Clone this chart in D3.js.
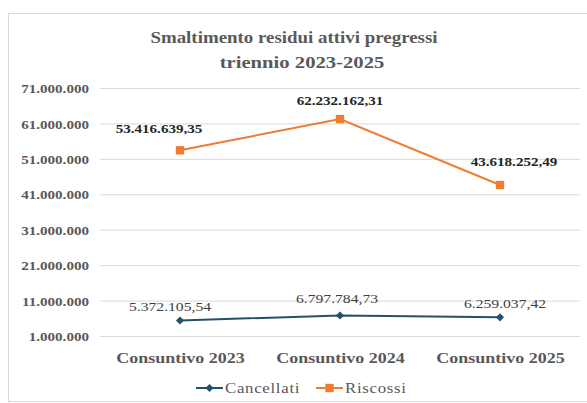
<!DOCTYPE html>
<html>
<head>
<meta charset="utf-8">
<script src="https://cdn.jsdelivr.net/npm/d3@7/dist/d3.min.js"></script>
<style>
  html, body { margin: 0; padding: 0; background: #fff; }
  svg { display: block; }
  text { font-family: "Liberation Serif", "Times New Roman", serif; }
</style>
</head>
<body>
<svg id="chart" width="587" height="403"></svg>
<script>
// Chart data
const categories = ["Consuntivo 2023", "Consuntivo 2024", "Consuntivo 2025"];
const cancellati = [5372105.54, 6797784.73, 6259037.42];
const riscossi = [53416639.35, 62232162.31, 43618252.49];
const yTicks = [1000000, 11000000, 21000000, 31000000, 41000000, 51000000, 61000000, 71000000];
const seriesNames = ["Cancellati", "Riscossi"];
const titleLines = ["Smaltimento residui attivi pregressi", "triennio 2023-2025"];

const it = d3.formatLocale({ decimal: ",", thousands: ".", grouping: [3], currency: ["€", ""] });
const fmtTick = it.format(",d");
const fmtVal = it.format(",.2f");

const svg = d3.select("#chart");
const W = 587, H = 403;
const plot = { left: 100, right: 580, top: 88, bottom: 336 };
const widen = 1.16; // glyphs are drawn slightly wider than the font's natural width

function stretch(sel, k = widen) {
  sel.each(function () {
    const len = this.getComputedTextLength();
    d3.select(this).attr("textLength", len * k).attr("lengthAdjust", "spacingAndGlyphs");
  });
}

// Chart area frame
svg.append("rect").attr("x", 8.5).attr("y", 13.5).attr("width", W - 8).attr("height", 388)
  .attr("fill", "#fff").attr("stroke", "#d9d9d9").attr("stroke-width", 1);

const x = d3.scalePoint().domain(categories).range([plot.left, plot.right]).padding(0.5);
const y = d3.scaleLinear().domain([1000000, 71000000]).range([plot.bottom, plot.top]);

// Title
svg.append("g").selectAll("text").data(titleLines).join("text")
  .attr("x", (d, i) => i === 0 ? 294 : 302).attr("y", (d, i) => 43 + i * 25)
  .attr("text-anchor", "middle").attr("font-size", 17.5).attr("font-weight", "bold")
  .attr("fill", "#595959").text(d => d)
  .each(function (d, i) { d3.select(this).call(stretch, i === 0 ? 1.08 : 1.18); });

// Gridlines and value axis
const yAxis = d3.axisLeft(y).tickValues(yTicks).tickFormat(fmtTick)
  .tickSize(-(plot.right - plot.left)).tickPadding(11);
const gy = svg.append("g").attr("transform", `translate(${plot.left},0)`).call(yAxis);
gy.select(".domain").remove();
gy.selectAll(".tick line").attr("stroke", "#d9d9d9").attr("stroke-width", 1);
gy.selectAll(".tick text").attr("font-size", 13).attr("font-weight", "bold")
  .attr("fill", "#595959").attr("dy", "0.36em").call(stretch);

// Category axis
const xAxis = d3.axisBottom(x).tickSize(0).tickPadding(16);
const gx = svg.append("g").attr("transform", `translate(0,${plot.bottom})`).call(xAxis);
gx.select(".domain").remove();
gx.selectAll(".tick text").attr("font-size", 15.5).attr("font-weight", "bold")
  .attr("fill", "#595959").call(stretch);

const colors = { Cancellati: "#24506c", Riscossi: "#ed7d31" };
const line = d3.line().x((d, i) => x(categories[i])).y(d => y(d));

// Cancellati series
svg.append("path").datum(cancellati).attr("d", line)
  .attr("fill", "none").attr("stroke", colors.Cancellati).attr("stroke-width", 2);
svg.append("g").selectAll("path").data(cancellati).join("path")
  .attr("d", d3.symbol(d3.symbolDiamond2, 42)())
  .attr("transform", (d, i) => `translate(${x(categories[i])},${y(d)})`)
  .attr("fill", colors.Cancellati);

// Riscossi series
svg.append("path").datum(riscossi).attr("d", line)
  .attr("fill", "none").attr("stroke", colors.Riscossi).attr("stroke-width", 2);
svg.append("g").selectAll("path").data(riscossi).join("path")
  .attr("d", d3.symbol(d3.symbolSquare, 70)())
  .attr("transform", (d, i) => `translate(${x(categories[i])},${y(d)})`)
  .attr("fill", colors.Riscossi);

// Value labels, nudged off their markers
const cancOffset = [[-10, -10], [-3, -12], [5, -9]];
const riscOffset = [[-21, -17], [0, -14], [14, -19]];
svg.append("g").selectAll("text").data(cancellati).join("text")
  .attr("x", (d, i) => x(categories[i]) + cancOffset[i][0])
  .attr("y", (d, i) => y(d) + cancOffset[i][1])
  .attr("text-anchor", "middle").attr("font-size", 13.5)
  .attr("fill", "#404040").text(d => fmtVal(d)).call(stretch);
svg.append("g").selectAll("text").data(riscossi).join("text")
  .attr("x", (d, i) => x(categories[i]) + riscOffset[i][0])
  .attr("y", (d, i) => y(d) + riscOffset[i][1])
  .attr("text-anchor", "middle").attr("font-size", 13).attr("font-weight", "bold")
  .attr("fill", "#262626").text(d => fmtVal(d)).call(stretch);

// Legend
const legendX = [196, 316];
const lg = svg.append("g").selectAll("g").data(seriesNames).join("g")
  .attr("transform", (d, i) => `translate(${legendX[i]},388)`);
lg.append("line").attr("x1", 0).attr("x2", 27).attr("y1", 0).attr("y2", 0)
  .attr("stroke", d => colors[d]).attr("stroke-width", 2);
lg.append("path")
  .attr("d", d => d === "Cancellati" ? d3.symbol(d3.symbolDiamond2, 42)() : d3.symbol(d3.symbolSquare, 70)())
  .attr("transform", "translate(13.5,0)").attr("fill", d => colors[d]);
lg.append("text").attr("x", 29).attr("y", 5).attr("font-size", 14.5)
  .attr("fill", "#595959").attr("letter-spacing", 0.6).text(d => d).call(stretch);
</script>
</body>
</html>
